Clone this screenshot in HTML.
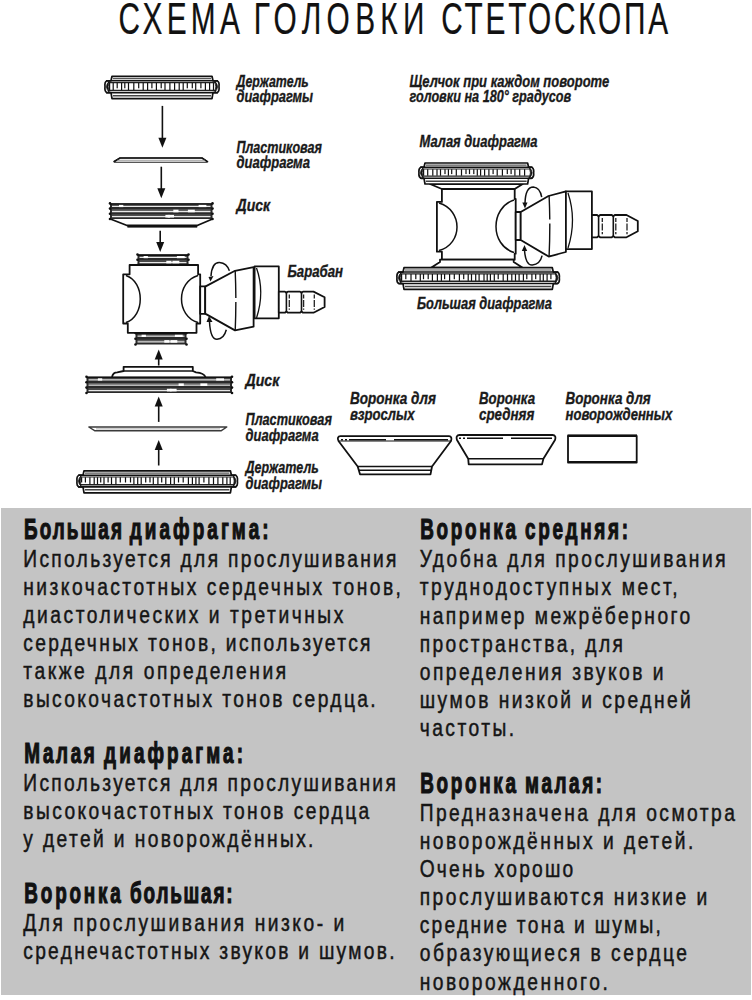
<!DOCTYPE html>
<html><head><meta charset="utf-8"><style>
html,body{margin:0;padding:0;background:#fff;}
svg{display:block;font-family:"Liberation Sans", sans-serif;}
</style></head><body>
<svg width="752" height="1000" viewBox="0 0 752 1000">
<rect width="752" height="1000" fill="#fff"/>
<path d="M112,76.3 H212 L213,80.78 L217,80.78 Q219.6,81.78 219,86.71600000000001 Q219.6,91.652 217,92.652 L213,92.652 L212,98.7 H112 L111,92.652 L107,92.652 Q104.4,91.652 105,86.71600000000001 Q104.4,81.78 107,80.78 L111,80.78 Z" fill="#fff" stroke="#111" stroke-width="1.7" stroke-linejoin="round"/><line x1="113" y1="78.7" x2="211" y2="78.7" stroke="#555" stroke-width="1.2"/><line x1="113" y1="95.7" x2="211" y2="95.7" stroke="#444" stroke-width="1.4"/><line x1="106" y1="80.8" x2="218" y2="80.8" stroke="#111" stroke-width="1.6"/><line x1="106" y1="92.7" x2="218" y2="92.7" stroke="#111" stroke-width="1.6"/><line x1="108" y1="82.6" x2="216" y2="82.6" stroke="#222" stroke-width="1.2"/><line x1="108" y1="90.5" x2="216" y2="90.5" stroke="#222" stroke-width="1.4"/><rect x="109.0" y="82.8" width="1.2" height="7.3" fill="#111"/><rect x="112.6" y="82.8" width="1.2" height="7.3" fill="#111"/><rect x="116.6" y="82.8" width="1.2" height="5.5" fill="#111"/><rect x="121.0" y="82.8" width="1.2" height="7.3" fill="#111"/><rect x="124.2" y="82.8" width="1.2" height="5.5" fill="#111"/><rect x="127.9" y="82.8" width="1.2" height="7.3" fill="#111"/><rect x="133.2" y="82.8" width="1.2" height="7.3" fill="#111"/><rect x="138.1" y="82.8" width="1.2" height="5.5" fill="#111"/><rect x="142.6" y="82.8" width="1.2" height="7.3" fill="#111"/><rect x="147.0" y="82.8" width="1.2" height="7.3" fill="#111"/><rect x="151.3" y="82.8" width="1.2" height="5.5" fill="#111"/><rect x="155.8" y="82.8" width="1.2" height="7.3" fill="#111"/><rect x="160.6" y="82.8" width="1.2" height="5.5" fill="#111"/><rect x="164.4" y="82.8" width="1.2" height="7.3" fill="#111"/><rect x="169.3" y="82.8" width="1.2" height="7.3" fill="#111"/><rect x="174.0" y="82.8" width="1.2" height="7.3" fill="#111"/><rect x="178.6" y="82.8" width="1.2" height="7.3" fill="#111"/><rect x="182.6" y="82.8" width="1.2" height="7.3" fill="#111"/><rect x="186.7" y="82.8" width="1.2" height="5.5" fill="#111"/><rect x="191.7" y="82.8" width="1.2" height="5.5" fill="#111"/><rect x="195.1" y="82.8" width="1.2" height="7.3" fill="#111"/><rect x="200.3" y="82.8" width="1.2" height="5.5" fill="#111"/><rect x="204.8" y="82.8" width="1.2" height="7.3" fill="#111"/><rect x="209.0" y="82.8" width="1.2" height="7.3" fill="#111"/><rect x="212.9" y="82.8" width="1.2" height="7.3" fill="#111"/><path d="M109.2,81.08 Q103.8,86.71600000000001 109.2,92.352 Q107.2,86.71600000000001 109.2,81.08 Z" fill="#111" stroke="#111" stroke-width="0.8"/><path d="M214.8,81.08 Q220.2,86.71600000000001 214.8,92.352 Q216.8,86.71600000000001 214.8,81.08 Z" fill="#111" stroke="#111" stroke-width="0.8"/>
<line x1="162.4" y1="105.9" x2="162.4" y2="138.8" stroke="#111" stroke-width="1.6"/><path d="M158.4,137.8 L166.4,137.8 L162.4,147.8 Z" fill="#111"/>
<path d="M120,158 H202 L207.8,161.8 L206.5,162.3 H115 L113.8,161.8 Z" fill="#fff" stroke="#222" stroke-width="1.1" stroke-linejoin="round"/>
<path d="M113.8,161.8 L120,158 H202 L207.8,161.8" fill="none" stroke="#111" stroke-width="1.6" stroke-linejoin="round"/>
<line x1="117" y1="160.3" x2="205" y2="160.3" stroke="#888" stroke-width="0.8"/>
<line x1="161.3" y1="166.7" x2="161.3" y2="189.3" stroke="#111" stroke-width="1.6"/><path d="M157.3,188.3 L165.3,188.3 L161.3,198.3 Z" fill="#111"/>
<path d="M110.4,219 L127.1,225.5 H197.2 L212.5,219" stroke="#111" stroke-width="1.8" fill="#fff" stroke-linejoin="round" stroke-width="1.5"/>
<rect x="127.4" y="225" width="69.8" height="2.6" fill="#111"/>
<rect x="110" y="203.4" width="102.5" height="15.599999999999994" fill="#2a2a2a"/><line x1="112" y1="206.3" x2="210.5" y2="206.3" stroke="#e8e8e8" stroke-width="1.3"/><line x1="112" y1="204.7" x2="210.5" y2="204.7" stroke="#777" stroke-width="0.8"/><rect x="198.6" y="204.5" width="7.8" height="2.6" fill="#fff"/><rect x="119.0" y="204.5" width="4.3" height="2.6" fill="#fff"/><line x1="112" y1="211.5" x2="210.5" y2="211.5" stroke="#e8e8e8" stroke-width="1.3"/><line x1="112" y1="209.9" x2="210.5" y2="209.9" stroke="#777" stroke-width="0.8"/><rect x="187.9" y="209.7" width="6.9" height="2.6" fill="#fff"/><rect x="173.3" y="209.7" width="5.2" height="2.6" fill="#fff"/><line x1="112" y1="216.7" x2="210.5" y2="216.7" stroke="#e8e8e8" stroke-width="1.3"/><line x1="112" y1="215.1" x2="210.5" y2="215.1" stroke="#777" stroke-width="0.8"/><rect x="167.6" y="214.9" width="6.4" height="2.6" fill="#fff"/><rect x="165.4" y="214.9" width="4.6" height="2.6" fill="#fff"/><line x1="110" y1="204.0" x2="212.5" y2="204.0" stroke="#111" stroke-width="1.6"/><circle cx="110" cy="203.4" r="1.3" fill="#111"/><circle cx="212.5" cy="203.4" r="1.3" fill="#111"/><circle cx="110" cy="208.6" r="1.3" fill="#111"/><circle cx="212.5" cy="208.6" r="1.3" fill="#111"/><circle cx="110" cy="213.8" r="1.3" fill="#111"/><circle cx="212.5" cy="213.8" r="1.3" fill="#111"/><circle cx="110" cy="219.0" r="1.3" fill="#111"/><circle cx="212.5" cy="219.0" r="1.3" fill="#111"/>
<line x1="160.2" y1="230.7" x2="160.2" y2="243" stroke="#111" stroke-width="1.6"/><path d="M156.2,242 L164.2,242 L160.2,252 Z" fill="#111"/>
<rect x="137.5" y="254.5" width="51.0" height="10.5" fill="#2a2a2a"/><line x1="139.5" y1="257.4" x2="186.5" y2="257.4" stroke="#e8e8e8" stroke-width="1.3"/><line x1="139.5" y1="255.8" x2="186.5" y2="255.8" stroke="#777" stroke-width="0.8"/><rect x="176.9" y="255.6" width="7.8" height="2.6" fill="#fff"/><rect x="143.6" y="255.6" width="4.3" height="2.6" fill="#fff"/><line x1="139.5" y1="262.6" x2="186.5" y2="262.6" stroke="#e8e8e8" stroke-width="1.3"/><line x1="139.5" y1="261.0" x2="186.5" y2="261.0" stroke="#777" stroke-width="0.8"/><rect x="172.4" y="260.8" width="6.9" height="2.6" fill="#fff"/><rect x="166.3" y="260.8" width="5.2" height="2.6" fill="#fff"/><line x1="137.5" y1="255.1" x2="188.5" y2="255.1" stroke="#111" stroke-width="1.6"/><circle cx="137.5" cy="254.5" r="1.3" fill="#111"/><circle cx="188.5" cy="254.5" r="1.3" fill="#111"/><circle cx="137.5" cy="259.8" r="1.3" fill="#111"/><circle cx="188.5" cy="259.8" r="1.3" fill="#111"/><circle cx="137.5" cy="265.0" r="1.3" fill="#111"/><circle cx="188.5" cy="265.0" r="1.3" fill="#111"/>
<rect x="135.5" y="333" width="51.0" height="11.5" fill="#2a2a2a"/><line x1="137.5" y1="336.2" x2="184.5" y2="336.2" stroke="#e8e8e8" stroke-width="1.3"/><line x1="137.5" y1="334.6" x2="184.5" y2="334.6" stroke="#777" stroke-width="0.8"/><rect x="174.9" y="334.4" width="7.8" height="2.6" fill="#fff"/><rect x="141.6" y="334.4" width="4.3" height="2.6" fill="#fff"/><line x1="137.5" y1="341.9" x2="184.5" y2="341.9" stroke="#e8e8e8" stroke-width="1.3"/><line x1="137.5" y1="340.3" x2="184.5" y2="340.3" stroke="#777" stroke-width="0.8"/><rect x="170.4" y="340.1" width="6.9" height="2.6" fill="#fff"/><rect x="164.3" y="340.1" width="5.2" height="2.6" fill="#fff"/><line x1="135.5" y1="333.6" x2="186.5" y2="333.6" stroke="#111" stroke-width="1.6"/><circle cx="135.5" cy="333.0" r="1.3" fill="#111"/><circle cx="186.5" cy="333.0" r="1.3" fill="#111"/><circle cx="135.5" cy="338.8" r="1.3" fill="#111"/><circle cx="186.5" cy="338.8" r="1.3" fill="#111"/><circle cx="135.5" cy="344.5" r="1.3" fill="#111"/><circle cx="186.5" cy="344.5" r="1.3" fill="#111"/>
<path d="M129.6,265 H198.1 V274.3 H200.2 V323.5 H196.5 V332.8 H127.8 V323.5 H123.2 V274.3 H129.6 Z" stroke="#111" stroke-width="1.8" fill="#fff" stroke-linejoin="round"/>
<path d="M126,275.5 C145,282 145,316 126,322.5" fill="none" stroke="#111" stroke-width="1.5"/>
<path d="M198,275.5 C176,282 176,316 198,322.5" fill="none" stroke="#111" stroke-width="1.5"/>
<rect x="200.2" y="286.4" width="5" height="27.4" stroke="#111" stroke-width="1.8" fill="#fff" stroke-linejoin="round" stroke-width="1.5"/>
<path d="M205.2,286.6 L235,270.8 L253.6,267.1 V326.7 L235,330.4 L205.2,313.6 Z" stroke="#111" stroke-width="1.8" fill="#fff" stroke-linejoin="round"/>
<path d="M235.2,271 Q236.5,300 235.2,331" fill="none" stroke="#111" stroke-width="1.4" stroke-dasharray="27 4 40"/>
<path d="M254.6,266.4 H278.8 V318.3 H254.6 Z" stroke="#111" stroke-width="1.8" fill="#fff" stroke-linejoin="round"/>
<path d="M256.5,268 Q265,292 256.5,318" fill="none" stroke="#111" stroke-width="1.3"/>
<path d="M278.8,291.6 H284.9 L286.4,292.8 L287.9,291.6 H300.0 L301.5,292.8 L303.0,291.6 H313.5 L324.6,297.3 V307.0 L313.5,312.7 H303.0 L301.5,311.5 L300.0,312.7 H287.9 L286.4,311.5 L284.9,312.7 H278.8 Z" fill="#fff" stroke="#111" stroke-width="1.8" stroke-linejoin="round"/><line x1="286.4" y1="292.8" x2="286.4" y2="311.5" stroke="#111" stroke-width="1.6"/><line x1="301.5" y1="292.8" x2="301.5" y2="311.5" stroke="#111" stroke-width="1.6"/><line x1="289.3" y1="294.6" x2="289.3" y2="309.7" stroke="#222" stroke-width="1.3" stroke-dasharray="4 1.5 7 1.5"/><line x1="303.6" y1="294.6" x2="303.6" y2="309.7" stroke="#222" stroke-width="1.3" stroke-dasharray="4 1.5 7 1.5"/><line x1="314.3" y1="294.6" x2="314.3" y2="309.7" stroke="#222" stroke-width="1.3" stroke-dasharray="4 1.5 7 1.5"/>
<path d="M211,276 Q212,262 219.5,262.4 Q227,263 229.4,270.8" fill="none" stroke="#111" stroke-width="1.5"/>
<path d="M208.5,277 L213.5,276 L210.5,281.5 Z" fill="#111"/>
<path d="M209.5,322 Q210.5,339.5 217,339.3 Q224,339 226.3,329.8" fill="none" stroke="#111" stroke-width="1.5"/>
<path d="M206.5,322 L212.5,322 L209,316 Z" fill="#111"/>
<line x1="158.7" y1="358.6" x2="158.7" y2="365.5" stroke="#111" stroke-width="1.6"/><path d="M154.7,359.6 L162.7,359.6 L158.7,349.6 Z" fill="#111"/>
<path d="M112,377 Q113,372.3 117.2,372.3 L123.6,371 V366.8 H192.8 V371 L196,372.3 Q204,373 205.5,377" stroke="#111" stroke-width="1.8" fill="#fff" stroke-linejoin="round"/>
<line x1="123.6" y1="371" x2="192.8" y2="371" stroke="#111" stroke-width="1.4"/>
<rect x="86.5" y="376.8" width="145.5" height="16.19999999999999" fill="#2a2a2a"/><line x1="88.5" y1="379.8" x2="230" y2="379.8" stroke="#e8e8e8" stroke-width="1.3"/><line x1="88.5" y1="378.2" x2="230" y2="378.2" stroke="#777" stroke-width="0.8"/><rect x="216.2" y="378.0" width="7.8" height="2.6" fill="#fff"/><rect x="97.9" y="378.0" width="4.3" height="2.6" fill="#fff"/><line x1="88.5" y1="385.2" x2="230" y2="385.2" stroke="#e8e8e8" stroke-width="1.3"/><line x1="88.5" y1="383.6" x2="230" y2="383.6" stroke="#777" stroke-width="0.8"/><rect x="200.4" y="383.4" width="6.9" height="2.6" fill="#fff"/><rect x="178.6" y="383.4" width="5.2" height="2.6" fill="#fff"/><line x1="88.5" y1="390.6" x2="230" y2="390.6" stroke="#e8e8e8" stroke-width="1.3"/><line x1="88.5" y1="389.0" x2="230" y2="389.0" stroke="#777" stroke-width="0.8"/><rect x="170.2" y="388.8" width="6.4" height="2.6" fill="#fff"/><rect x="166.9" y="388.8" width="4.6" height="2.6" fill="#fff"/><line x1="86.5" y1="377.40000000000003" x2="232" y2="377.40000000000003" stroke="#111" stroke-width="1.6"/><circle cx="86.5" cy="376.8" r="1.3" fill="#111"/><circle cx="232" cy="376.8" r="1.3" fill="#111"/><circle cx="86.5" cy="382.2" r="1.3" fill="#111"/><circle cx="232" cy="382.2" r="1.3" fill="#111"/><circle cx="86.5" cy="387.6" r="1.3" fill="#111"/><circle cx="232" cy="387.6" r="1.3" fill="#111"/><circle cx="86.5" cy="393.0" r="1.3" fill="#111"/><circle cx="232" cy="393.0" r="1.3" fill="#111"/>
<line x1="158.7" y1="405.4" x2="158.7" y2="421.9" stroke="#111" stroke-width="1.6"/><path d="M154.7,406.4 L162.7,406.4 L158.7,396.4 Z" fill="#111"/>
<path d="M88.8,427 H226.8 L221,430.8 H95 Z" fill="#fff" stroke="#3a3a3a" stroke-width="1.4" stroke-linejoin="round"/>
<line x1="96" y1="428.9" x2="220" y2="428.9" stroke="#999" stroke-width="0.8"/>
<line x1="158.7" y1="449" x2="158.7" y2="465.5" stroke="#111" stroke-width="1.6"/><path d="M154.7,450 L162.7,450 L158.7,440 Z" fill="#111"/>
<path d="M84,470.8 H230.4 L231.4,475.2 L235.4,475.2 Q238.0,476.2 237.4,481.03 Q238.0,485.86 235.4,486.86 L231.4,486.86 L230.4,492.8 H84 L83,486.86 L79,486.86 Q76.4,485.86 77,481.03 Q76.4,476.2 79,475.2 L83,475.2 Z" fill="#fff" stroke="#111" stroke-width="1.7" stroke-linejoin="round"/><line x1="85" y1="473.1" x2="229.4" y2="473.1" stroke="#555" stroke-width="1.2"/><line x1="85" y1="489.8" x2="229.4" y2="489.8" stroke="#444" stroke-width="1.4"/><line x1="78" y1="475.2" x2="236.4" y2="475.2" stroke="#111" stroke-width="1.6"/><line x1="78" y1="486.9" x2="236.4" y2="486.9" stroke="#111" stroke-width="1.6"/><line x1="80" y1="477.0" x2="234.4" y2="477.0" stroke="#222" stroke-width="1.2"/><line x1="80" y1="484.7" x2="234.4" y2="484.7" stroke="#222" stroke-width="1.4"/><rect x="81.0" y="477.2" width="1.2" height="5.3" fill="#111"/><rect x="84.8" y="477.2" width="1.2" height="5.3" fill="#111"/><rect x="89.3" y="477.2" width="1.2" height="7.1" fill="#111"/><rect x="93.6" y="477.2" width="1.2" height="7.1" fill="#111"/><rect x="96.9" y="477.2" width="1.2" height="7.1" fill="#111"/><rect x="100.1" y="477.2" width="1.2" height="5.3" fill="#111"/><rect x="103.4" y="477.2" width="1.2" height="7.1" fill="#111"/><rect x="107.5" y="477.2" width="1.2" height="5.3" fill="#111"/><rect x="110.9" y="477.2" width="1.2" height="7.1" fill="#111"/><rect x="115.3" y="477.2" width="1.2" height="7.1" fill="#111"/><rect x="119.7" y="477.2" width="1.2" height="5.3" fill="#111"/><rect x="124.9" y="477.2" width="1.2" height="5.3" fill="#111"/><rect x="129.9" y="477.2" width="1.2" height="5.3" fill="#111"/><rect x="133.3" y="477.2" width="1.2" height="7.1" fill="#111"/><rect x="137.1" y="477.2" width="1.2" height="7.1" fill="#111"/><rect x="140.6" y="477.2" width="1.2" height="7.1" fill="#111"/><rect x="145.1" y="477.2" width="1.2" height="5.3" fill="#111"/><rect x="149.4" y="477.2" width="1.2" height="5.3" fill="#111"/><rect x="152.7" y="477.2" width="1.2" height="7.1" fill="#111"/><rect x="157.3" y="477.2" width="1.2" height="7.1" fill="#111"/><rect x="161.1" y="477.2" width="1.2" height="5.3" fill="#111"/><rect x="165.2" y="477.2" width="1.2" height="7.1" fill="#111"/><rect x="170.0" y="477.2" width="1.2" height="7.1" fill="#111"/><rect x="173.7" y="477.2" width="1.2" height="7.1" fill="#111"/><rect x="177.9" y="477.2" width="1.2" height="5.3" fill="#111"/><rect x="182.6" y="477.2" width="1.2" height="5.3" fill="#111"/><rect x="187.8" y="477.2" width="1.2" height="7.1" fill="#111"/><rect x="191.8" y="477.2" width="1.2" height="7.1" fill="#111"/><rect x="195.3" y="477.2" width="1.2" height="7.1" fill="#111"/><rect x="198.5" y="477.2" width="1.2" height="7.1" fill="#111"/><rect x="203.3" y="477.2" width="1.2" height="5.3" fill="#111"/><rect x="208.3" y="477.2" width="1.2" height="7.1" fill="#111"/><rect x="212.9" y="477.2" width="1.2" height="7.1" fill="#111"/><rect x="217.3" y="477.2" width="1.2" height="7.1" fill="#111"/><rect x="222.2" y="477.2" width="1.2" height="7.1" fill="#111"/><rect x="226.3" y="477.2" width="1.2" height="7.1" fill="#111"/><rect x="229.6" y="477.2" width="1.2" height="7.1" fill="#111"/><path d="M81.2,475.5 Q75.8,481.03 81.2,486.56 Q79.2,481.03 81.2,475.5 Z" fill="#111" stroke="#111" stroke-width="0.8"/><path d="M233.20000000000002,475.5 Q238.6,481.03 233.20000000000002,486.56 Q235.20000000000002,481.03 233.20000000000002,475.5 Z" fill="#111" stroke="#111" stroke-width="0.8"/>
<path d="M430,184 L441.9,189 H514.7 L522.7,184 Z" stroke="#111" stroke-width="1.8" fill="#fff" stroke-linejoin="round" stroke-width="1.5"/>
<path d="M425,163 H527.6 L528.6,167.2 L531.6,167.2 Q534.2,168.2 533.6,172.765 Q534.2,177.33 531.6,178.33 L528.6,178.33 L527.6,184 H425 L424,178.33 L421,178.33 Q418.4,177.33 419,172.765 Q418.4,168.2 421,167.2 L424,167.2 Z" fill="#fff" stroke="#111" stroke-width="1.7" stroke-linejoin="round"/><line x1="426" y1="165.2" x2="526.6" y2="165.2" stroke="#555" stroke-width="1.2"/><line x1="426" y1="181.2" x2="526.6" y2="181.2" stroke="#444" stroke-width="1.4"/><line x1="420" y1="167.2" x2="532.6" y2="167.2" stroke="#111" stroke-width="1.6"/><line x1="420" y1="178.3" x2="532.6" y2="178.3" stroke="#111" stroke-width="1.6"/><line x1="422" y1="169.0" x2="530.6" y2="169.0" stroke="#222" stroke-width="1.2"/><line x1="422" y1="176.1" x2="530.6" y2="176.1" stroke="#222" stroke-width="1.4"/><rect x="423.0" y="169.2" width="1.2" height="6.5" fill="#111"/><rect x="427.1" y="169.2" width="1.2" height="6.5" fill="#111"/><rect x="432.2" y="169.2" width="1.2" height="6.5" fill="#111"/><rect x="436.4" y="169.2" width="1.2" height="6.5" fill="#111"/><rect x="439.9" y="169.2" width="1.2" height="6.5" fill="#111"/><rect x="444.4" y="169.2" width="1.2" height="4.9" fill="#111"/><rect x="447.8" y="169.2" width="1.2" height="6.5" fill="#111"/><rect x="451.1" y="169.2" width="1.2" height="4.9" fill="#111"/><rect x="455.7" y="169.2" width="1.2" height="6.5" fill="#111"/><rect x="460.9" y="169.2" width="1.2" height="6.5" fill="#111"/><rect x="465.4" y="169.2" width="1.2" height="4.9" fill="#111"/><rect x="468.9" y="169.2" width="1.2" height="4.9" fill="#111"/><rect x="473.2" y="169.2" width="1.2" height="4.9" fill="#111"/><rect x="476.7" y="169.2" width="1.2" height="6.5" fill="#111"/><rect x="480.0" y="169.2" width="1.2" height="6.5" fill="#111"/><rect x="484.0" y="169.2" width="1.2" height="6.5" fill="#111"/><rect x="488.3" y="169.2" width="1.2" height="6.5" fill="#111"/><rect x="492.5" y="169.2" width="1.2" height="4.9" fill="#111"/><rect x="496.6" y="169.2" width="1.2" height="6.5" fill="#111"/><rect x="501.8" y="169.2" width="1.2" height="6.5" fill="#111"/><rect x="506.7" y="169.2" width="1.2" height="4.9" fill="#111"/><rect x="510.5" y="169.2" width="1.2" height="4.9" fill="#111"/><rect x="514.3" y="169.2" width="1.2" height="6.5" fill="#111"/><rect x="519.1" y="169.2" width="1.2" height="6.5" fill="#111"/><rect x="524.0" y="169.2" width="1.2" height="6.5" fill="#111"/><path d="M423.2,167.5 Q417.8,172.765 423.2,178.03 Q421.2,172.765 423.2,167.5 Z" fill="#111" stroke="#111" stroke-width="0.8"/><path d="M529.4,167.5 Q534.8000000000001,172.765 529.4,178.03 Q531.4,172.765 529.4,167.5 Z" fill="#111" stroke="#111" stroke-width="0.8"/>
<path d="M441.9,189 H514.7 V199 H515.7 V253.7 H514.7 V259.7 H441.9 V251.7 H436.9 V201.9 H441.9 Z" stroke="#111" stroke-width="1.8" fill="#fff" stroke-linejoin="round"/>
<path d="M439,203 C463,210 463,244 439,250.5" fill="none" stroke="#111" stroke-width="1.5"/>
<path d="M514,200 C490,208 490,245 514,252.5" fill="none" stroke="#111" stroke-width="1.5"/>
<path d="M440,259.7 H513.7 V262 L522.7,267.7 H431 L440,262 Z" stroke="#111" stroke-width="1.8" fill="#fff" stroke-linejoin="round" stroke-width="1.5"/>
<path d="M404,267.7 H552.3 L553.3,272.03999999999996 L557.3,272.03999999999996 Q559.9,273.03999999999996 559.3,277.79049999999995 Q559.9,282.541 557.3,283.541 L553.3,283.541 L552.3,289.4 H404 L403,283.541 L399,283.541 Q396.4,282.541 397,277.79049999999995 Q396.4,273.03999999999996 399,272.03999999999996 L403,272.03999999999996 Z" fill="#fff" stroke="#111" stroke-width="1.7" stroke-linejoin="round"/><line x1="405" y1="270.0" x2="551.3" y2="270.0" stroke="#555" stroke-width="1.2"/><line x1="405" y1="286.5" x2="551.3" y2="286.5" stroke="#444" stroke-width="1.4"/><line x1="398" y1="272.0" x2="558.3" y2="272.0" stroke="#111" stroke-width="1.6"/><line x1="398" y1="283.5" x2="558.3" y2="283.5" stroke="#111" stroke-width="1.6"/><line x1="400" y1="273.8" x2="556.3" y2="273.8" stroke="#222" stroke-width="1.2"/><line x1="400" y1="281.3" x2="556.3" y2="281.3" stroke="#222" stroke-width="1.4"/><rect x="401.0" y="274.0" width="1.2" height="6.9" fill="#111"/><rect x="405.2" y="274.0" width="1.2" height="5.2" fill="#111"/><rect x="410.4" y="274.0" width="1.2" height="6.9" fill="#111"/><rect x="415.2" y="274.0" width="1.2" height="5.2" fill="#111"/><rect x="419.7" y="274.0" width="1.2" height="6.9" fill="#111"/><rect x="422.9" y="274.0" width="1.2" height="5.2" fill="#111"/><rect x="427.6" y="274.0" width="1.2" height="5.2" fill="#111"/><rect x="431.8" y="274.0" width="1.2" height="6.9" fill="#111"/><rect x="436.8" y="274.0" width="1.2" height="6.9" fill="#111"/><rect x="440.8" y="274.0" width="1.2" height="6.9" fill="#111"/><rect x="444.0" y="274.0" width="1.2" height="5.2" fill="#111"/><rect x="449.0" y="274.0" width="1.2" height="6.9" fill="#111"/><rect x="453.7" y="274.0" width="1.2" height="5.2" fill="#111"/><rect x="458.8" y="274.0" width="1.2" height="6.9" fill="#111"/><rect x="463.1" y="274.0" width="1.2" height="5.2" fill="#111"/><rect x="467.6" y="274.0" width="1.2" height="6.9" fill="#111"/><rect x="470.9" y="274.0" width="1.2" height="6.9" fill="#111"/><rect x="475.1" y="274.0" width="1.2" height="6.9" fill="#111"/><rect x="478.5" y="274.0" width="1.2" height="6.9" fill="#111"/><rect x="483.4" y="274.0" width="1.2" height="6.9" fill="#111"/><rect x="486.6" y="274.0" width="1.2" height="6.9" fill="#111"/><rect x="489.8" y="274.0" width="1.2" height="6.9" fill="#111"/><rect x="493.7" y="274.0" width="1.2" height="6.9" fill="#111"/><rect x="497.6" y="274.0" width="1.2" height="5.2" fill="#111"/><rect x="502.6" y="274.0" width="1.2" height="6.9" fill="#111"/><rect x="506.9" y="274.0" width="1.2" height="6.9" fill="#111"/><rect x="511.2" y="274.0" width="1.2" height="6.9" fill="#111"/><rect x="514.9" y="274.0" width="1.2" height="6.9" fill="#111"/><rect x="518.5" y="274.0" width="1.2" height="6.9" fill="#111"/><rect x="522.8" y="274.0" width="1.2" height="6.9" fill="#111"/><rect x="526.2" y="274.0" width="1.2" height="5.2" fill="#111"/><rect x="531.3" y="274.0" width="1.2" height="6.9" fill="#111"/><rect x="535.1" y="274.0" width="1.2" height="5.2" fill="#111"/><rect x="539.5" y="274.0" width="1.2" height="6.9" fill="#111"/><rect x="542.7" y="274.0" width="1.2" height="6.9" fill="#111"/><rect x="546.5" y="274.0" width="1.2" height="6.9" fill="#111"/><rect x="550.3" y="274.0" width="1.2" height="5.2" fill="#111"/><path d="M401.2,272.34 Q395.8,277.79049999999995 401.2,283.241 Q399.2,277.79049999999995 401.2,272.34 Z" fill="#111" stroke="#111" stroke-width="0.8"/><path d="M555.0999999999999,272.34 Q560.5,277.79049999999995 555.0999999999999,283.241 Q557.0999999999999,277.79049999999995 555.0999999999999,272.34 Z" fill="#111" stroke="#111" stroke-width="0.8"/>
<rect x="515.7" y="212" width="5" height="28" stroke="#111" stroke-width="1.8" fill="#fff" stroke-linejoin="round" stroke-width="1.5"/>
<path d="M520.7,212 L548.5,196 L565.9,191.4 V252 Q558,254 548.7,256.6 L520.7,240 Z" stroke="#111" stroke-width="1.8" fill="#fff" stroke-linejoin="round"/>
<path d="M549.1,195.5 Q550.5,226 549.1,256" fill="none" stroke="#111" stroke-width="1.4" stroke-dasharray="24 4 40"/>
<path d="M565.9,191.4 H591.9 V249.1 H565.9 Z" stroke="#111" stroke-width="1.8" fill="#fff" stroke-linejoin="round"/>
<path d="M568,193 Q577,220 568,248" fill="none" stroke="#111" stroke-width="1.3"/>
<path d="M591.9,215 H597.1 L598.6,216.2 L600.1,215 H611.8 L613.3,216.2 L614.8,215 H626.5 L637.8,221.0 V231.3 L626.5,237.3 H614.8 L613.3,236.10000000000002 L611.8,237.3 H600.1 L598.6,236.10000000000002 L597.1,237.3 H591.9 Z" fill="#fff" stroke="#111" stroke-width="1.8" stroke-linejoin="round"/><line x1="598.6" y1="216.2" x2="598.6" y2="236.10000000000002" stroke="#111" stroke-width="1.6"/><line x1="613.3" y1="216.2" x2="613.3" y2="236.10000000000002" stroke="#111" stroke-width="1.6"/><line x1="602.3" y1="218" x2="602.3" y2="234.3" stroke="#222" stroke-width="1.3" stroke-dasharray="4 1.5 7 1.5"/><line x1="615.8" y1="218" x2="615.8" y2="234.3" stroke="#222" stroke-width="1.3" stroke-dasharray="4 1.5 7 1.5"/><line x1="627" y1="218" x2="627" y2="234.3" stroke="#222" stroke-width="1.3" stroke-dasharray="4 1.5 7 1.5"/>
<path d="M525,203 Q525.5,187 533.3,187 Q540,187.5 541.7,197.2" fill="none" stroke="#111" stroke-width="1.5"/>
<path d="M522.3,202.5 L527.5,202.5 L525,208.5 Z" fill="#111"/>
<path d="M524.5,250 Q525.5,265.5 532.4,265 Q540,264.5 542.1,255.7" fill="none" stroke="#111" stroke-width="1.5"/>
<path d="M521.8,251 L527.2,251 L524.5,245 Z" fill="#111"/>
<path d="M338.5,441 Q336.5,436.5 340.5,436.2 H449 Q452.5,436.5 451,441 L432,466.5 L430.5,474.3 H360 L357.7,466.5 Z" stroke="#111" stroke-width="1.8" fill="#fff" stroke-linejoin="round"/>
<line x1="339" y1="441" x2="451" y2="441" stroke="#111" stroke-width="1.2"/>
<path d="M341,439.8 h2 M345,439.8 h2 M349,439.8 H386 M394,439.8 H448" stroke="#111" stroke-width="1.6" fill="none"/>
<line x1="357.7" y1="466.5" x2="432" y2="466.5" stroke="#111" stroke-width="1.7"/>
<line x1="359" y1="470.3" x2="431" y2="470.3" stroke="#111" stroke-width="1.5"/>
<path d="M457,440 Q455.5,435.2 459.5,435 H552.5 Q556.5,435.2 555,440 L543.4,458.7 L542,464.4 H468.7 L468.2,458.7 Z" stroke="#111" stroke-width="1.8" fill="#fff" stroke-linejoin="round"/>
<path d="M459,438.2 h2 M463,438.2 h2 M467,438.2 H503 M511,438.2 H552" stroke="#111" stroke-width="1.4" fill="none"/>
<line x1="468.2" y1="458.7" x2="543.4" y2="458.7" stroke="#111" stroke-width="1.6"/>
<path d="M568,436 H636.7 V462.6 H568 Z" stroke="#111" stroke-width="1.8" fill="#fff" stroke-linejoin="round"/>
<rect x="567.5" y="434.4" width="69.5" height="2.6" fill="#111"/>
<line x1="568" y1="461.8" x2="636.7" y2="461.8" stroke="#111" stroke-width="1.8"/>
<text transform="scale(0.67,1)" x="176.87" y="33.8" font-size="44.5" font-weight="normal" font-style="normal" fill="#111" stroke="#111" stroke-width="0.25" textLength="181.0" lengthAdjust="spacing">СХЕМА</text>
<text transform="scale(0.67,1)" x="378.66" y="33.8" font-size="44.5" font-weight="normal" font-style="normal" fill="#111" stroke="#111" stroke-width="0.25" textLength="254.9" lengthAdjust="spacing">ГОЛОВКИ</text>
<text transform="scale(0.67,1)" x="658.66" y="33.8" font-size="44.5" font-weight="normal" font-style="normal" fill="#111" stroke="#111" stroke-width="0.25" textLength="338.5" lengthAdjust="spacing">СТЕТОСКОПА</text>
<text x="236.5" y="86.6" font-size="16.3" font-weight="bold" font-style="italic" fill="#1a1a1a" stroke="#1a1a1a" stroke-width="0.35" textLength="72.2" lengthAdjust="spacingAndGlyphs">Держатель</text>
<text x="236.5" y="101.7" font-size="16.3" font-weight="bold" font-style="italic" fill="#1a1a1a" stroke="#1a1a1a" stroke-width="0.35" textLength="76.6" lengthAdjust="spacingAndGlyphs">диафрагмы</text>
<text x="236.5" y="152.8" font-size="16.3" font-weight="bold" font-style="italic" fill="#1a1a1a" stroke="#1a1a1a" stroke-width="0.35" textLength="85.4" lengthAdjust="spacingAndGlyphs">Пластиковая</text>
<text x="236.5" y="168.3" font-size="16.3" font-weight="bold" font-style="italic" fill="#1a1a1a" stroke="#1a1a1a" stroke-width="0.35" textLength="73.5" lengthAdjust="spacingAndGlyphs">диафрагма</text>
<text x="236.5" y="211.4" font-size="16.3" font-weight="bold" font-style="italic" fill="#1a1a1a" stroke="#1a1a1a" stroke-width="0.35" textLength="33.6" lengthAdjust="spacingAndGlyphs">Диск</text>
<text x="287.5" y="276.6" font-size="16.3" font-weight="bold" font-style="italic" fill="#1a1a1a" stroke="#1a1a1a" stroke-width="0.35" textLength="55.5" lengthAdjust="spacingAndGlyphs">Барабан</text>
<text x="245.5" y="385.6" font-size="16.3" font-weight="bold" font-style="italic" fill="#1a1a1a" stroke="#1a1a1a" stroke-width="0.35" textLength="33.9" lengthAdjust="spacingAndGlyphs">Диск</text>
<text x="245.5" y="425.1" font-size="16.3" font-weight="bold" font-style="italic" fill="#1a1a1a" stroke="#1a1a1a" stroke-width="0.35" textLength="86.4" lengthAdjust="spacingAndGlyphs">Пластиковая</text>
<text x="245.5" y="440.7" font-size="16.3" font-weight="bold" font-style="italic" fill="#1a1a1a" stroke="#1a1a1a" stroke-width="0.35" textLength="73.1" lengthAdjust="spacingAndGlyphs">диафрагма</text>
<text x="245.5" y="472.6" font-size="16.3" font-weight="bold" font-style="italic" fill="#1a1a1a" stroke="#1a1a1a" stroke-width="0.35" textLength="73.1" lengthAdjust="spacingAndGlyphs">Держатель</text>
<text x="245.5" y="488.6" font-size="16.3" font-weight="bold" font-style="italic" fill="#1a1a1a" stroke="#1a1a1a" stroke-width="0.35" textLength="76.5" lengthAdjust="spacingAndGlyphs">диафрагмы</text>
<text x="409.5" y="86.6" font-size="16.3" font-weight="bold" font-style="italic" fill="#1a1a1a" stroke="#1a1a1a" stroke-width="0.35" textLength="199.7" lengthAdjust="spacingAndGlyphs">Щелчок при каждом повороте</text>
<text x="409.5" y="101.7" font-size="16.3" font-weight="bold" font-style="italic" fill="#1a1a1a" stroke="#1a1a1a" stroke-width="0.35" textLength="161.7" lengthAdjust="spacingAndGlyphs">головки на 180° градусов</text>
<text x="419.5" y="147.4" font-size="16.3" font-weight="bold" font-style="italic" fill="#1a1a1a" stroke="#1a1a1a" stroke-width="0.35" textLength="118.0" lengthAdjust="spacingAndGlyphs">Малая диафрагма</text>
<text x="417.0" y="309.0" font-size="16.3" font-weight="bold" font-style="italic" fill="#1a1a1a" stroke="#1a1a1a" stroke-width="0.35" textLength="134.8" lengthAdjust="spacingAndGlyphs">Большая диафрагма</text>
<text x="350.0" y="404.2" font-size="16.3" font-weight="bold" font-style="italic" fill="#1a1a1a" stroke="#1a1a1a" stroke-width="0.35" textLength="85.9" lengthAdjust="spacingAndGlyphs">Воронка для</text>
<text x="350.0" y="419.7" font-size="16.3" font-weight="bold" font-style="italic" fill="#1a1a1a" stroke="#1a1a1a" stroke-width="0.35" textLength="64.6" lengthAdjust="spacingAndGlyphs">взрослых</text>
<text x="479.0" y="404.2" font-size="16.3" font-weight="bold" font-style="italic" fill="#1a1a1a" stroke="#1a1a1a" stroke-width="0.35" textLength="56.1" lengthAdjust="spacingAndGlyphs">Воронка</text>
<text x="479.0" y="419.7" font-size="16.3" font-weight="bold" font-style="italic" fill="#1a1a1a" stroke="#1a1a1a" stroke-width="0.35" textLength="55.3" lengthAdjust="spacingAndGlyphs">средняя</text>
<text x="565.5" y="404.2" font-size="16.3" font-weight="bold" font-style="italic" fill="#1a1a1a" stroke="#1a1a1a" stroke-width="0.35" textLength="85.2" lengthAdjust="spacingAndGlyphs">Воронка для</text>
<text x="565.5" y="419.7" font-size="16.3" font-weight="bold" font-style="italic" fill="#1a1a1a" stroke="#1a1a1a" stroke-width="0.35" textLength="106.8" lengthAdjust="spacingAndGlyphs">новорожденных</text>
<rect x="1" y="508" width="750" height="487" fill="#c4c4c4"/>
<text transform="scale(0.64,1)" x="37.50" y="539.4" font-size="29.5" font-weight="bold" font-style="normal" fill="#111" stroke="#111" stroke-width="1.2" textLength="153.0" lengthAdjust="spacing">Большая</text>
<text transform="scale(0.64,1)" x="202.66" y="539.4" font-size="29.5" font-weight="bold" font-style="normal" fill="#111" stroke="#111" stroke-width="1.2" textLength="216.9" lengthAdjust="spacing">диафрагма:</text>
<text transform="scale(0.8,1)" x="29.12" y="567.2" font-size="24" font-weight="normal" font-style="normal" fill="#151515" stroke="#151515" stroke-width="0.5" textLength="466.5" lengthAdjust="spacing">Используется для прослушивания</text>
<text transform="scale(0.8,1)" x="29.12" y="595.2" font-size="24" font-weight="normal" font-style="normal" fill="#151515" stroke="#151515" stroke-width="0.5" textLength="472.1" lengthAdjust="spacing">низкочастотных сердечных тонов,</text>
<text transform="scale(0.8,1)" x="29.12" y="623.2" font-size="24" font-weight="normal" font-style="normal" fill="#151515" stroke="#151515" stroke-width="0.5" textLength="400.0" lengthAdjust="spacing">диастолических и третичных</text>
<text transform="scale(0.8,1)" x="29.12" y="651.2" font-size="24" font-weight="normal" font-style="normal" fill="#151515" stroke="#151515" stroke-width="0.5" textLength="434.0" lengthAdjust="spacing">сердечных тонов, используется</text>
<text transform="scale(0.8,1)" x="29.12" y="679.2" font-size="24" font-weight="normal" font-style="normal" fill="#151515" stroke="#151515" stroke-width="0.5" textLength="328.6" lengthAdjust="spacing">также для определения</text>
<text transform="scale(0.8,1)" x="29.12" y="707.2" font-size="24" font-weight="normal" font-style="normal" fill="#151515" stroke="#151515" stroke-width="0.5" textLength="440.5" lengthAdjust="spacing">высокочастотных тонов сердца.</text>
<text transform="scale(0.64,1)" x="37.97" y="763.4" font-size="29.5" font-weight="bold" font-style="normal" fill="#111" stroke="#111" stroke-width="1.2" textLength="110.3" lengthAdjust="spacing">Малая</text>
<text transform="scale(0.64,1)" x="162.66" y="763.4" font-size="29.5" font-weight="bold" font-style="normal" fill="#111" stroke="#111" stroke-width="1.2" textLength="217.0" lengthAdjust="spacing">диафрагма:</text>
<text transform="scale(0.8,1)" x="29.12" y="791.2" font-size="24" font-weight="normal" font-style="normal" fill="#151515" stroke="#151515" stroke-width="0.5" textLength="465.6" lengthAdjust="spacing">Используется для прослушивания</text>
<text transform="scale(0.8,1)" x="29.12" y="819.2" font-size="24" font-weight="normal" font-style="normal" fill="#151515" stroke="#151515" stroke-width="0.5" textLength="432.5" lengthAdjust="spacing">высокочастотных тонов сердца</text>
<text transform="scale(0.8,1)" x="29.12" y="847.2" font-size="24" font-weight="normal" font-style="normal" fill="#151515" stroke="#151515" stroke-width="0.5" textLength="362.7" lengthAdjust="spacing">у детей и новорождённых.</text>
<text transform="scale(0.64,1)" x="37.97" y="903.4" font-size="29.5" font-weight="bold" font-style="normal" fill="#111" stroke="#111" stroke-width="1.2" textLength="150.9" lengthAdjust="spacing">Воронка</text>
<text transform="scale(0.64,1)" x="203.28" y="903.4" font-size="29.5" font-weight="bold" font-style="normal" fill="#111" stroke="#111" stroke-width="1.2" textLength="160.0" lengthAdjust="spacing">большая:</text>
<text transform="scale(0.8,1)" x="29.12" y="931.2" font-size="24" font-weight="normal" font-style="normal" fill="#151515" stroke="#151515" stroke-width="0.5" textLength="401.1" lengthAdjust="spacing">Для прослушивания низко- и</text>
<text transform="scale(0.8,1)" x="29.12" y="959.2" font-size="24" font-weight="normal" font-style="normal" fill="#151515" stroke="#151515" stroke-width="0.5" textLength="464.0" lengthAdjust="spacing">среднечастотных звуков и шумов.</text>
<text transform="scale(0.64,1)" x="656.56" y="539.4" font-size="29.5" font-weight="bold" font-style="normal" fill="#111" stroke="#111" stroke-width="1.2" textLength="149.5" lengthAdjust="spacing">Воронка</text>
<text transform="scale(0.64,1)" x="820.47" y="539.4" font-size="29.5" font-weight="bold" font-style="normal" fill="#111" stroke="#111" stroke-width="1.2" textLength="160.8" lengthAdjust="spacing">средняя:</text>
<text transform="scale(0.8,1)" x="524.62" y="567.4" font-size="24" font-weight="normal" font-style="normal" fill="#151515" stroke="#151515" stroke-width="0.5" textLength="382.3" lengthAdjust="spacing">Удобна для прослушивания</text>
<text transform="scale(0.8,1)" x="524.62" y="595.5" font-size="24" font-weight="normal" font-style="normal" fill="#151515" stroke="#151515" stroke-width="0.5" textLength="322.4" lengthAdjust="spacing">труднодоступных мест,</text>
<text transform="scale(0.8,1)" x="524.62" y="623.7" font-size="24" font-weight="normal" font-style="normal" fill="#151515" stroke="#151515" stroke-width="0.5" textLength="338.2" lengthAdjust="spacing">например межрёберного</text>
<text transform="scale(0.8,1)" x="524.62" y="651.8" font-size="24" font-weight="normal" font-style="normal" fill="#151515" stroke="#151515" stroke-width="0.5" textLength="254.1" lengthAdjust="spacing">пространства, для</text>
<text transform="scale(0.8,1)" x="524.62" y="680.0" font-size="24" font-weight="normal" font-style="normal" fill="#151515" stroke="#151515" stroke-width="0.5" textLength="304.8" lengthAdjust="spacing">определения звуков и</text>
<text transform="scale(0.8,1)" x="524.62" y="708.1" font-size="24" font-weight="normal" font-style="normal" fill="#151515" stroke="#151515" stroke-width="0.5" textLength="338.9" lengthAdjust="spacing">шумов низкой и средней</text>
<text transform="scale(0.8,1)" x="524.62" y="736.2" font-size="24" font-weight="normal" font-style="normal" fill="#151515" stroke="#151515" stroke-width="0.5" textLength="118.1" lengthAdjust="spacing">частоты.</text>
<text transform="scale(0.64,1)" x="656.56" y="792.8" font-size="29.5" font-weight="bold" font-style="normal" fill="#111" stroke="#111" stroke-width="1.2" textLength="149.5" lengthAdjust="spacing">Воронка</text>
<text transform="scale(0.64,1)" x="820.47" y="792.8" font-size="29.5" font-weight="bold" font-style="normal" fill="#111" stroke="#111" stroke-width="1.2" textLength="120.2" lengthAdjust="spacing">малая:</text>
<text transform="scale(0.8,1)" x="524.62" y="820.7" font-size="24" font-weight="normal" font-style="normal" fill="#151515" stroke="#151515" stroke-width="0.5" textLength="394.0" lengthAdjust="spacing">Предназначена для осмотра</text>
<text transform="scale(0.8,1)" x="524.62" y="848.9" font-size="24" font-weight="normal" font-style="normal" fill="#151515" stroke="#151515" stroke-width="0.5" textLength="342.0" lengthAdjust="spacing">новорождённых и детей.</text>
<text transform="scale(0.8,1)" x="524.62" y="877.0" font-size="24" font-weight="normal" font-style="normal" fill="#151515" stroke="#151515" stroke-width="0.5" textLength="192.0" lengthAdjust="spacing">Очень хорошо</text>
<text transform="scale(0.8,1)" x="524.62" y="905.2" font-size="24" font-weight="normal" font-style="normal" fill="#151515" stroke="#151515" stroke-width="0.5" textLength="359.5" lengthAdjust="spacing">прослушиваются низкие и</text>
<text transform="scale(0.8,1)" x="524.62" y="933.3" font-size="24" font-weight="normal" font-style="normal" fill="#151515" stroke="#151515" stroke-width="0.5" textLength="301.4" lengthAdjust="spacing">средние тона и шумы,</text>
<text transform="scale(0.8,1)" x="524.62" y="961.5" font-size="24" font-weight="normal" font-style="normal" fill="#151515" stroke="#151515" stroke-width="0.5" textLength="334.0" lengthAdjust="spacing">образующиеся в сердце</text>
<text transform="scale(0.8,1)" x="524.62" y="989.6" font-size="24" font-weight="normal" font-style="normal" fill="#151515" stroke="#151515" stroke-width="0.5" textLength="235.1" lengthAdjust="spacing">новорожденного.</text>
</svg></body></html>
